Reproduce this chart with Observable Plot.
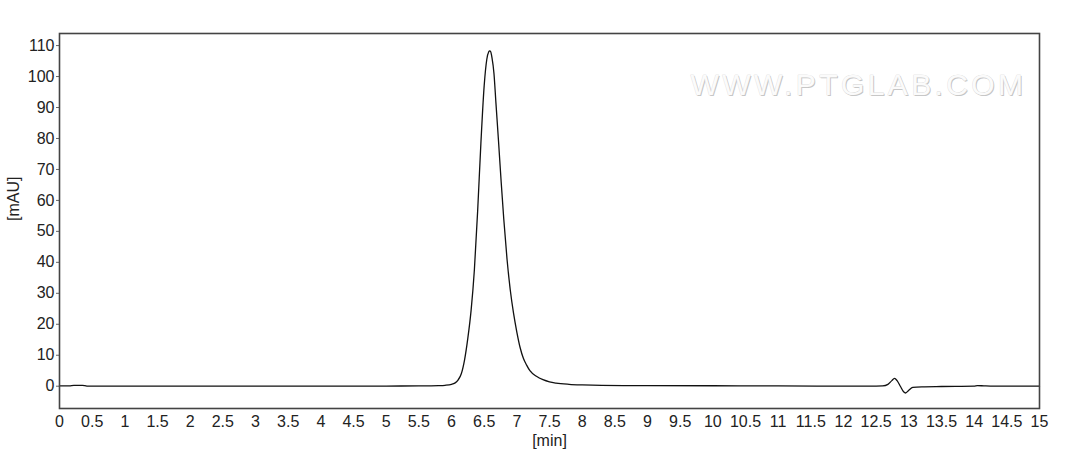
<!DOCTYPE html>
<html><head><meta charset="utf-8">
<script src="https://cdn.jsdelivr.net/npm/d3@7"></script>
<script src="https://cdn.jsdelivr.net/npm/@observablehq/plot@0.6"></script>
<style>body{margin:0;background:#fff;}</style>
</head><body><div id="chart"></div>
<script>
// Retention time (min)
const timeMin = [
  0, 0.15, 0.22, 0.35, 0.42, 1.0, 2.0, 3.0, 4.0, 5.0, 5.5, 5.8, 5.9,
  6.0, 6.05, 6.10, 6.15, 6.20, 6.25, 6.30, 6.35, 6.40, 6.45, 6.50, 6.54, 6.57, 6.585,
  6.60, 6.62, 6.65, 6.68, 6.72, 6.76, 6.80, 6.85, 6.90, 6.95, 7.00, 7.05, 7.10, 7.15,
  7.20, 7.30, 7.40, 7.50, 7.60, 7.80, 8.00, 8.30, 9.0, 10.0, 11.0, 12.0, 12.5, 12.6,
  12.68, 12.74, 12.78, 12.82, 12.87, 12.92, 12.95, 13.0, 13.06, 13.2, 13.5, 14.0,
  14.05, 14.15, 14.3, 15.0
];
// Absorbance (mAU)
const absorbance = [
  0.1, 0.1, 0.3, 0.3, 0.0, 0.0, 0.0, 0.0, 0.0, 0.05, 0.1, 0.2, 0.3,
  0.6, 1.0, 2.0, 4.0, 8.5, 15.5, 24.5, 37.5, 56.5, 78.5, 97.0, 105.5, 108.0, 108.3,
  108.0, 106.0, 101.0, 91.5, 79.0, 66.0, 54.0, 41.0, 31.0, 23.5, 17.5, 12.5, 9.0, 6.8,
  5.0, 3.2, 2.1, 1.4, 1.0, 0.6, 0.4, 0.25, 0.2, 0.15, 0.1, 0.0, 0.05, 0.1,
  0.6, 1.8, 2.5, 1.8, 0.0, -1.8, -2.2, -1.3, -0.4, -0.2, -0.1, 0.0,
  0.2, 0.1, 0.0, 0.0
];
const xTicks = [0, 0.5, 1, 1.5, 2, 2.5, 3, 3.5, 4, 4.5, 5, 5.5, 6, 6.5, 7, 7.5, 8, 8.5, 9, 9.5,
  10, 10.5, 11, 11.5, 12, 12.5, 13, 13.5, 14, 14.5, 15];
const yTicks = [0, 10, 20, 30, 40, 50, 60, 70, 80, 90, 100, 110];
const xLabel = "[min]";
const yLabel = "[mAU]";
const watermark = "WWW.PTGLAB.COM";

const rows = timeMin.map((t, i) => ({t, v: absorbance[i]}));
const font = "'Liberation Sans', Arial, sans-serif";

const chart = Plot.plot({
  width: 1073, height: 455,
  marginLeft: 59, marginRight: 34, marginTop: 33, marginBottom: 47,
  style: {fontFamily: font, fontSize: "16px", color: "#222", background: "#fff"},
  x: {domain: [0, 15]},
  y: {domain: [-7.2, 113.9]},
  marks: [
    Plot.text([watermark], {text: d => d, frameAnchor: "top-right", dx: -12, dy: 41,
      textAnchor: "end", lineAnchor: "top", fontSize: 30, fill: "#c4c4c4", stroke: "none"}),
    Plot.text([watermark], {text: d => d, frameAnchor: "top-right", dx: -13, dy: 40,
      textAnchor: "end", lineAnchor: "top", fontSize: 30, fill: "#fbfbfb", stroke: "#d2d2d2", strokeWidth: 0.6}),
    Plot.axisX({ticks: xTicks, tickSize: 0, tickPadding: 7, tickFormat: d => String(d),
      label: null, fontSize: 16, fill: "#222"}),
    Plot.axisY({ticks: yTicks, tickSize: 3, tickPadding: 2, label: null, fontSize: 16,
      fill: "#222", stroke: "#666"}),
    Plot.line(rows, {x: "t", y: "v", stroke: "#111", strokeWidth: 1.3, curve: "monotone-x"}),
    Plot.frame({stroke: "#444", strokeWidth: 1.6}),
    Plot.text([xLabel], {text: d => d, frameAnchor: "bottom", dy: 32, lineAnchor: "middle",
      fontSize: 16, fill: "#222"}),
    Plot.text([yLabel], {text: d => d, frameAnchor: "left", dx: -46, rotate: -90,
      lineAnchor: "middle", fontSize: 16, fill: "#222"})
  ]
});
d3.select(chart).selectAll("text")
  .filter(function() { return this.textContent === watermark; })
  .attr("letter-spacing", "3.4px");
document.getElementById("chart").appendChild(chart);
</script>
</body></html>
